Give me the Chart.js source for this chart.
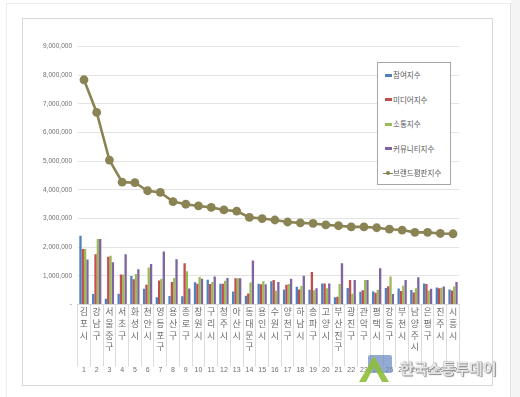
<!DOCTYPE html>
<html>
<head>
<meta charset="utf-8">
<script src="https://cdn.jsdelivr.net/npm/chart.js@4.4.1/dist/chart.umd.min.js"></script>
<style>
html, body { margin: 0; padding: 0; background: #fff; width: 520px; height: 397px; overflow: hidden; }
body { position: relative; font-family: "Noto Sans CJK KR", "Noto Sans", sans-serif; }
#outer { position: absolute; left: 6px; top: 3px; width: 503px; height: 400px; border-left: 1px solid #ececec; border-top: 1px solid #ececec; border-right: 1px solid #e2e2e2; }
#strip { position: absolute; left: 511px; top: 0; width: 9px; height: 397px; background: #f4f4f4; }
#frame { position: absolute; left: 22px; top: 18px; width: 469px; height: 366px; border: 1px solid #d9d9d9; }
#wrap { position: absolute; left: 0; top: 0; width: 520px; height: 397px; }
#legend { position: absolute; left: 377px; top: 62px; width: 72px; height: 121px; border: 1px solid #a6a6a6; background: #fff; }
#legend .row { position: relative; height: 24.5px; }
#legend .sw { position: absolute; left: 7px; top: 10.5px; width: 7px; height: 3px; }
#legend .ln { position: absolute; left: 5px; top: 11.5px; width: 10px; height: 1.5px; }
#legend .dot { position: absolute; left: 8px; top: 10px; width: 4px; height: 4px; border-radius: 50%; }
#legend .tx { position: absolute; left: 15px; top: 0; line-height: 24.5px; font-size: 7.5px; color: #595959; white-space: nowrap; }
#wm { position: absolute; left: 357px; top: 352px; width: 160px; height: 34px; }
#wm .t { position: absolute; left: 43px; top: 5px; font-size: 15px; font-weight: bold; color: #e8e8e8; letter-spacing: 0px;
  text-shadow: 0 0 1px #7a7a7a, 1px 1px 1px #8a8a8a; white-space: nowrap; }
</style>
</head>
<body>
<div id="strip"></div>
<div id="outer"></div>
<div id="frame"></div>
<div id="wrap"><canvas id="chartCanvas" width="520" height="397"></canvas></div>
<div id="legend"></div>
<div id="wm">
  <svg width="40" height="34" style="position:absolute;left:0;top:0">
    <rect x="11" y="3" width="24" height="18" rx="2" fill="#6f8fc4" opacity="0.75"/>
    <polygon points="2,30 17,4 32,30 25,30 17,15 9,30" fill="#8fbf3a" opacity="0.9"/>
  </svg>
  <div class="t">한국소통투데이</div>
</div>
<script>
// 도시 이름 (세로로 한 글자씩)
const cityNames = ["김포시", "강남구", "서울중구", "서초구", "화성시", "천안시", "영등포구", "용산구", "종로구", "창원시",
    "구리시", "청주시", "아산시", "동대문구", "용인시", "수원시", "양천구", "하남시", "송파구", "고양시",
    "부산진구", "광진구", "관악구", "평택시", "강동구", "부천시", "남양주시", "은평구", "진주시", "시흥시"];
const ranks = ["1", "2", "3", "4", "5", "6", "7", "8", "9", "10", "11", "12", "13", "14", "15",
    "16", "17", "18", "19", "20", "21", "22", "23", "24", "25", "26", "27", "28", "29", "30"];

const seriesNames = ["참여지수", "미디어지수", "소통지수", "커뮤니티지수", "브랜드평판지수"];
const seriesColors = ["#4f81bd", "#c0504d", "#9bbb59", "#8064a2", "#8a8454"];

const participation = [2400000, 370000, 200000, 380000, 1000000, 550000, 260000, 300000, 290000, 780000,
    870000, 730000, 460000, 310000, 730000, 810000, 530000, 620000, 520000, 740000,
    260000, 580000, 450000, 460000, 580000, 560000, 510000, 740000, 600000, 530000];
const media = [1940000, 1760000, 1670000, 1050000, 880000, 690000, 840000, 790000, 1440000, 730000,
    720000, 730000, 920000, 390000, 710000, 860000, 690000, 530000, 1140000, 740000,
    270000, 860000, 500000, 410000, 640000, 470000, 420000, 720000, 570000, 490000];
const communication = [1940000, 2290000, 1700000, 1050000, 1070000, 1290000, 900000, 930000, 1160000, 960000,
    790000, 830000, 920000, 770000, 810000, 480000, 720000, 650000, 500000, 570000,
    720000, 380000, 860000, 520000, 980000, 660000, 570000, 490000, 590000, 630000];
const community = [1570000, 2290000, 1480000, 1760000, 1230000, 1420000, 1850000, 1580000, 560000, 900000,
    980000, 930000, 920000, 1540000, 710000, 790000, 900000, 1010000, 570000, 740000,
    1440000, 860000, 860000, 1270000, 370000, 860000, 950000, 550000, 630000, 790000];
const brandIndex = [7840000, 6700000, 5040000, 4270000, 4250000, 3970000, 3910000, 3590000, 3500000, 3440000,
    3390000, 3300000, 3260000, 3040000, 3000000, 2950000, 2880000, 2850000, 2830000, 2780000,
    2750000, 2710000, 2710000, 2680000, 2630000, 2600000, 2520000, 2520000, 2480000, 2470000];

const yTicks = { min: 0, max: 9000000, step: 1000000 };

function barSet(i, values) {
    return {
        type: 'bar',
        label: seriesNames[i],
        data: values,
        backgroundColor: seriesColors[i],
        borderWidth: 0,
        barPercentage: 1,
        categoryPercentage: 0.73,
        order: 1
    };
}

function buildLegend() {
    const box = document.getElementById('legend');
    seriesNames.forEach((name, i) => {
        const row = document.createElement('div');
        row.className = 'row';
        if (i < 4) {
            row.innerHTML = '<span class="sw" style="background:' + seriesColors[i] + '"></span>';
        } else {
            row.innerHTML = '<span class="ln" style="background:' + seriesColors[i] + '"></span>' +
                '<span class="dot" style="background:' + seriesColors[i] + '"></span>';
        }
        const t = document.createElement('span');
        t.className = 'tx';
        t.textContent = name;
        row.appendChild(t);
        box.appendChild(row);
    });
}

let chart;
function showChart() {
    const ctx = document.getElementById("chartCanvas").getContext("2d");
    chart = new Chart(ctx, {
        data: {
            labels: cityNames.map(n => n.split('')),
            datasets: [
                {
                    type: 'line',
                    label: seriesNames[4],
                    data: brandIndex,
                    borderColor: seriesColors[4],
                    backgroundColor: seriesColors[4],
                    borderWidth: 2.6,
                    pointRadius: 4.4,
                    pointBorderWidth: 0,
                    pointBackgroundColor: seriesColors[4],
                    fill: false,
                    tension: 0,
                    order: 0
                },
                barSet(0, participation),
                barSet(1, media),
                barSet(2, communication),
                barSet(3, community)
            ]
        },
        options: {
            responsive: false,
            animation: false,
            devicePixelRatio: 1,
            layout: { padding: { left: 0, right: 60.6, top: 46.5, bottom: 22.4 } },
            plugins: { legend: { display: false }, tooltip: { enabled: false } },
            scales: {
                x: {
                    type: 'category',
                    position: 'bottom',
                    offset: true,
                    weight: 0,
                    grid: { display: true, drawOnChartArea: false, offset: true, drawTicks: true, tickLength: 62, color: '#dcdcdc' },
                    border: { display: true, color: '#d9d9d9' },
                    ticks: {
                        autoSkip: false, maxRotation: 0, minRotation: 0, padding: -60.5,
                        color: '#6e6e6e',
                        font: { family: '"Noto Sans CJK KR"', size: 9, lineHeight: 1.3 }
                    },
                    afterFit: s => { s.height = 50; }
                },
                x2: {
                    type: 'category',
                    position: 'bottom',
                    labels: ranks,
                    offset: true,
                    weight: 1,
                    grid: { display: false },
                    border: { display: false },
                    ticks: {
                        autoSkip: false, maxRotation: 0, minRotation: 0, padding: 3.5,
                        color: '#6e6e6e',
                        font: { family: '"Liberation Sans"', size: 7 }
                    },
                    afterFit: s => { s.height = 20; }
                },
                y: {
                    min: yTicks.min,
                    max: yTicks.max,
                    grid: { color: '#e3e3e3', drawTicks: false },
                    border: { display: false },
                    ticks: {
                        stepSize: yTicks.step,
                        padding: 5.6,
                        color: '#6e6e6e',
                        font: { family: '"Liberation Sans"', size: 6.5 },
                        callback: v => v === 0 ? '-' : v.toLocaleString('en-US')
                    },
                    afterFit: s => { s.width = 77.6; }
                }
            }
        }
    });
}

buildLegend();
showChart();
</script>
</body>
</html>
